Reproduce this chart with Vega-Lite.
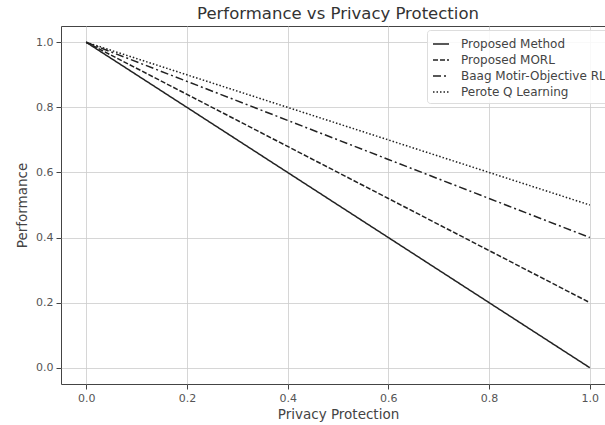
{
  "$schema": "https://vega.github.io/schema/vega-lite/v6.json",
  "width": 554,
  "height": 358,
  "autosize": {"type": "none"},
  "padding": {"left": 61, "top": 26, "right": 0, "bottom": 41},
  "background": "white",
  "title": {"text": "Performance vs Privacy Protection", "font": "DejaVu Sans", "fontSize": 16.5, "fontWeight": "normal", "color": "#333", "offset": 4},
  "config": {
    "font": "DejaVu Sans",
    "view": {"stroke": "#444", "strokeWidth": 1},
    "axis": {"labelFont": "DejaVu Sans", "labelFontSize": 11, "labelColor": "#555", "labelPadding": 3, "titleFont": "DejaVu Sans", "titleFontSize": 13.5, "titleFontWeight": "normal", "titleColor": "#444", "gridColor": "#ccc", "gridWidth": 0.8, "tickColor": "#444", "tickSize": 5, "domain": false}
  },
  "data": {"values": [
    {"x": 0.0, "y": 1.0, "s": "Proposed Method"},
    {"x": 0.2, "y": 0.8, "s": "Proposed Method"},
    {"x": 0.4, "y": 0.6, "s": "Proposed Method"},
    {"x": 0.6, "y": 0.4, "s": "Proposed Method"},
    {"x": 0.8, "y": 0.2, "s": "Proposed Method"},
    {"x": 1.0, "y": 0.0, "s": "Proposed Method"},
    {"x": 0.0, "y": 1.0, "s": "Proposed MORL"},
    {"x": 0.2, "y": 0.84, "s": "Proposed MORL"},
    {"x": 0.4, "y": 0.68, "s": "Proposed MORL"},
    {"x": 0.6, "y": 0.52, "s": "Proposed MORL"},
    {"x": 0.8, "y": 0.36, "s": "Proposed MORL"},
    {"x": 1.0, "y": 0.2, "s": "Proposed MORL"},
    {"x": 0.0, "y": 1.0, "s": "Baag Motir-Objective RL"},
    {"x": 0.2, "y": 0.88, "s": "Baag Motir-Objective RL"},
    {"x": 0.4, "y": 0.76, "s": "Baag Motir-Objective RL"},
    {"x": 0.6, "y": 0.64, "s": "Baag Motir-Objective RL"},
    {"x": 0.8, "y": 0.52, "s": "Baag Motir-Objective RL"},
    {"x": 1.0, "y": 0.4, "s": "Baag Motir-Objective RL"},
    {"x": 0.0, "y": 1.0, "s": "Perote Q Learning"},
    {"x": 0.2, "y": 0.9, "s": "Perote Q Learning"},
    {"x": 0.4, "y": 0.8, "s": "Perote Q Learning"},
    {"x": 0.6, "y": 0.7, "s": "Perote Q Learning"},
    {"x": 0.8, "y": 0.6, "s": "Perote Q Learning"},
    {"x": 1.0, "y": 0.5, "s": "Perote Q Learning"}
  ]},
  "mark": {"type": "line", "color": "#222", "strokeWidth": 1.5},
  "encoding": {
    "x": {"field": "x", "type": "quantitative", "title": "Privacy Protection", "scale": {"domain": [-0.05, 1.05], "nice": false, "zero": false}, "axis": {"values": [0, 0.2, 0.4, 0.6, 0.8, 1.0], "format": ".1f", "titlePadding": 4}},
    "y": {"field": "y", "type": "quantitative", "title": "Performance", "scale": {"domain": [-0.05, 1.05], "nice": false, "zero": false}, "axis": {"values": [0, 0.2, 0.4, 0.6, 0.8, 1.0], "format": ".1f", "titlePadding": 6}},
    "strokeDash": {"field": "s", "type": "nominal", "sort": ["Proposed Method", "Proposed MORL", "Baag Motir-Objective RL", "Perote Q Learning"],
      "scale": {"domain": ["Proposed Method", "Proposed MORL", "Baag Motir-Objective RL", "Perote Q Learning"], "range": [[1, 0], [5, 2], [8, 3, 2, 3], [1.5, 2]]},
      "legend": {"title": null, "orient": "top-right", "offset": 4, "symbolType": "stroke", "symbolSize": 256, "symbolStrokeColor": "#222", "symbolStrokeWidth": 1.5, "labelFont": "DejaVu Sans", "labelFontSize": 12, "labelColor": "#444", "labelOffset": 11, "fillColor": "rgba(255,255,255,0.85)", "strokeColor": "#ddd", "padding": 5, "rowPadding": 1, "cornerRadius": 3}}
  }
}
